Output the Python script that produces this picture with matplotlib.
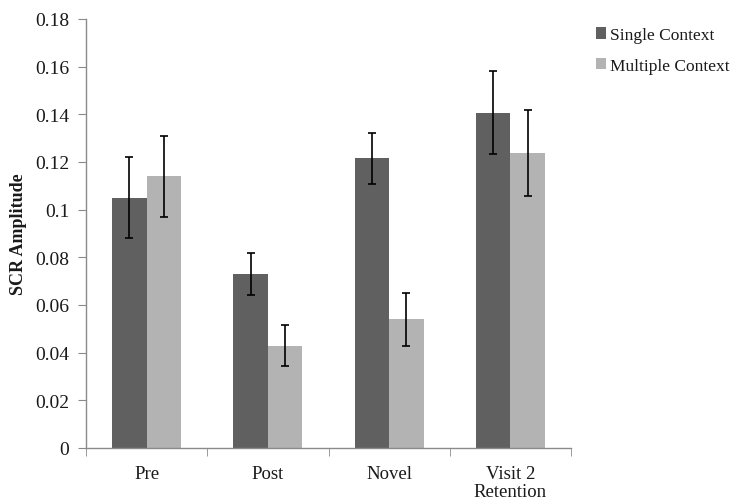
import matplotlib
matplotlib.use("Agg")
import matplotlib.pyplot as plt
import numpy as np
from matplotlib.ticker import FuncFormatter, FixedLocator

plt.rcParams['font.family'] = ['Liberation Serif', 'DejaVu Serif']

categories = ["Pre", "Post", "Novel", "Visit 2\nRetention"]
single_vals = [0.105, 0.073, 0.1215, 0.1407]
single_err = [0.017, 0.0087, 0.0106, 0.0175]
multiple_vals = [0.114, 0.043, 0.054, 0.1237]
multiple_err = [0.017, 0.0088, 0.011, 0.018]
series_names = ["Single Context", "Multiple Context"]
yticks = [0, 0.02, 0.04, 0.06, 0.08, 0.1, 0.12, 0.14, 0.16, 0.18]

dark = "#606060"
light = "#b3b3b3"
axis_col = "#8a8a8a"
text_col = "#1a1a1a"

fig = plt.figure(figsize=(7.44, 5.02), dpi=100)
ax = fig.add_axes([0.1156, 0.1056, 0.652, 0.8546])

x = np.arange(len(categories))
w = 0.285
ax.bar(x - w/2, single_vals, w, color=dark, label=series_names[0],
       yerr=single_err, capsize=3, error_kw=dict(elinewidth=1.2, capthick=1.2, ecolor="black"))
ax.bar(x + w/2, multiple_vals, w, color=light, label=series_names[1],
       yerr=multiple_err, capsize=3, error_kw=dict(elinewidth=1.2, capthick=1.2, ecolor="black"))

ax.set_xlim(-0.5, len(categories) - 0.5)
ax.set_ylim(0, 0.18)
ax.yaxis.set_major_locator(FixedLocator(yticks))
ax.yaxis.set_major_formatter(FuncFormatter(lambda v, p: "%g" % round(v, 4)))

ax.set_xticks(x)
ax.set_xticklabels(categories, fontsize=13.5, color=text_col, linespacing=1.1)
ax.tick_params(axis='x', which='major', length=0, pad=12)
ax.set_xticks(np.arange(-0.5, len(categories), 1.0), minor=True)
ax.tick_params(axis='x', which='minor', length=6, color=axis_col, direction='out')
ax.tick_params(axis='y', length=6, color=axis_col, labelsize=14, labelcolor=text_col,
               direction='out', pad=6)

for s in ['top', 'right']:
    ax.spines[s].set_visible(False)
for s in ['left', 'bottom']:
    ax.spines[s].set_color(axis_col)
    ax.spines[s].set_linewidth(1.0)

ax.set_ylabel("SCR Amplitude", fontsize=13, fontweight='bold', labelpad=6, color=text_col)

leg = fig.legend(loc='upper left', bbox_to_anchor=(0.801, 0.944), frameon=False,
                 fontsize=12.5, handlelength=0.6, handleheight=0.6, handletextpad=0.2,
                 labelspacing=0.85, borderaxespad=0, borderpad=0)
for t in leg.get_texts():
    t.set_color(text_col)

fig.savefig("out.png", dpi=100)
